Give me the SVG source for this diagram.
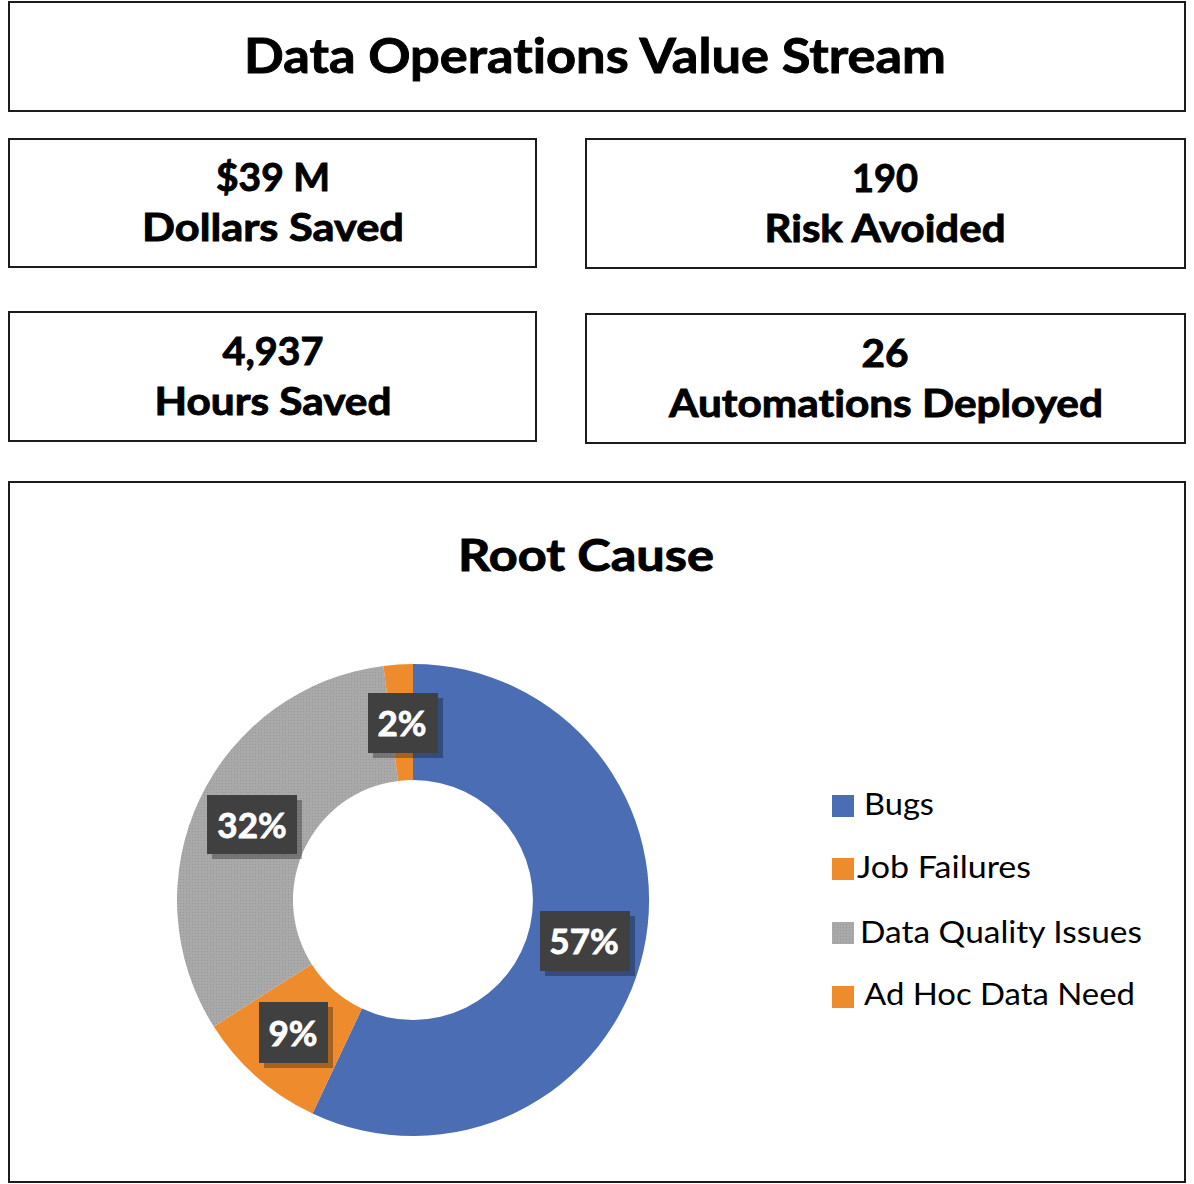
<svg xmlns="http://www.w3.org/2000/svg" width="1194" height="1184" viewBox="0 0 1194 1184">
<style>
.box{fill:#ffffff;stroke:#1c1c1c;stroke-width:2}
.h{font-family:Lato,"Open Sans",sans-serif;font-weight:700;fill:#000;stroke:#000;stroke-width:0.9;text-anchor:middle;font-variant-ligatures:none}
.lg{font-family:Lato,"Open Sans",sans-serif;font-weight:400;fill:#000;font-size:30px}
.lbl{fill:#404040}
.sh{fill:#000;opacity:0.3}
.pct{font-family:Lato,"Open Sans",sans-serif;font-weight:700;fill:#fff;stroke:#fff;stroke-width:0.8;font-size:35px;text-anchor:middle}
</style>
<defs>
<pattern id="dots" width="3" height="3" patternUnits="userSpaceOnUse">
<rect width="3" height="3" fill="#a9a9a9"/>
<rect width="1" height="1" fill="#979797"/>
</pattern>
</defs>
<rect width="1194" height="1184" fill="#ffffff"/>

<g id="title">
<rect class="box" x="9" y="2" width="1176" height="109"/>
<text class="h" x="595" y="73" font-size="48" textLength="702" lengthAdjust="spacingAndGlyphs">Data Operations Value Stream</text>
</g>

<g id="dollars">
<rect class="box" x="9" y="139" width="527" height="128"/>
<text class="h" x="273" y="191" font-size="38" textLength="114" lengthAdjust="spacingAndGlyphs">$39 M</text>
<text class="h" x="273" y="241" font-size="38" textLength="262" lengthAdjust="spacingAndGlyphs">Dollars Saved</text>
</g>

<g id="risk">
<rect class="box" x="586" y="139" width="599" height="129"/>
<text class="h" x="885" y="192" font-size="38" textLength="66" lengthAdjust="spacingAndGlyphs">190</text>
<text class="h" x="885" y="242" font-size="38" textLength="241" lengthAdjust="spacingAndGlyphs">Risk Avoided</text>
</g>

<g id="hours">
<rect class="box" x="9" y="312" width="527" height="129"/>
<text class="h" x="273" y="365" font-size="38" textLength="101" lengthAdjust="spacingAndGlyphs">4,937</text>
<text class="h" x="273" y="415" font-size="38" textLength="237" lengthAdjust="spacingAndGlyphs">Hours Saved</text>
</g>

<g id="automations">
<rect class="box" x="586" y="314" width="599" height="129"/>
<text class="h" x="885" y="367" font-size="38" textLength="47" lengthAdjust="spacingAndGlyphs">26</text>
<text class="h" x="886" y="417" font-size="38" textLength="434" lengthAdjust="spacingAndGlyphs">Automations Deployed</text>
</g>

<g id="chart">
<rect class="box" x="9" y="482" width="1176" height="700"/>
<text class="h" x="586" y="571" font-size="44" textLength="256" lengthAdjust="spacingAndGlyphs">Root Cause</text>

<g id="donut">
<path d="M413,664 A236,236 0 1 1 312.5,1113.5 L361.9,1008.6 A120,120 0 1 0 413,780 Z" fill="#4a6db3"/>
<path d="M312.5,1113.5 A236,236 0 0 1 213.7,1026.4 L311.7,964.3 A120,120 0 0 0 361.9,1008.6 Z" fill="#ee8b2d"/>
<path d="M213.7,1026.4 A236,236 0 0 1 383.4,665.9 L398.0,780.9 A120,120 0 0 0 311.7,964.3 Z" fill="url(#dots)"/>
<path d="M383.4,665.9 A236,236 0 0 1 413,664 L413,780 A120,120 0 0 0 398.0,780.9 Z" fill="#ee8b2d"/>
</g>

<g id="labels">
<rect class="sh" x="373" y="698" width="70" height="60"/>
<rect class="lbl" x="368" y="693" width="70" height="60"/>
<text class="pct" x="402" y="736">2%</text>
<rect class="sh" x="212" y="800" width="90" height="59"/>
<rect class="lbl" x="207" y="795" width="90" height="59"/>
<text class="pct" x="252" y="838">32%</text>
<rect class="sh" x="545" y="916" width="90" height="60"/>
<rect class="lbl" x="540" y="911" width="90" height="60"/>
<text class="pct" x="584" y="954">57%</text>
<rect class="sh" x="264" y="1007" width="69" height="61"/>
<rect class="lbl" x="259" y="1002" width="69" height="61"/>
<text class="pct" x="293" y="1046">9%</text>
</g>

<g id="legend">
<rect x="832" y="795" width="22" height="22" fill="#4a6db3"/>
<text class="lg" x="864" y="815" textLength="70" lengthAdjust="spacingAndGlyphs">Bugs</text>
<rect x="832" y="858" width="22" height="22" fill="#ee8b2d"/>
<text class="lg" x="857" y="878" textLength="174" lengthAdjust="spacingAndGlyphs">Job Failures</text>
<rect x="832" y="922" width="22" height="22" fill="url(#dots)"/>
<text class="lg" x="860" y="943" textLength="282" lengthAdjust="spacingAndGlyphs">Data Quality Issues</text>
<rect x="832" y="986" width="22" height="22" fill="#ee8b2d"/>
<text class="lg" x="864" y="1005" textLength="271" lengthAdjust="spacingAndGlyphs">Ad Hoc Data Need</text>
</g>
</g>
</svg>
